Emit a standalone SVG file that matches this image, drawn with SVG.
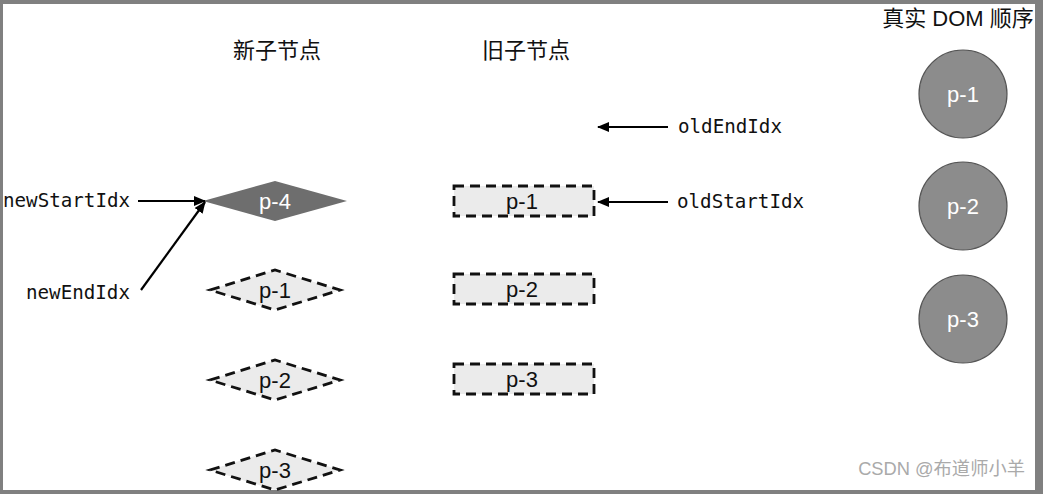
<svg xmlns="http://www.w3.org/2000/svg" width="1043" height="494" viewBox="0 0 1043 494">
  <style>
    .title { font-family: "Liberation Sans", "Noto Sans CJK SC", sans-serif; font-size: 22px; fill: #111; text-anchor: middle; }
    .lbl { font-family: "Liberation Sans", Arial, sans-serif; font-size: 22px; text-anchor: middle; }
    .mono { font-family: "DejaVu Sans Mono", monospace; font-size: 19.2px; fill: #111; }
    .dash { fill: #ebebeb; stroke: #111; stroke-width: 2.8; stroke-dasharray: 10 6; }
    .dom { fill: #8c8c8c; stroke: #555; stroke-width: 1.2; }
    .conn { stroke: #000; stroke-width: 2.2; fill: none; marker-end: url(#arr); }
  </style>
  <defs>
    <marker id="arr" viewBox="0 0 12 10" refX="11" refY="5" markerWidth="12" markerHeight="10" markerUnits="userSpaceOnUse" orient="auto">
      <path d="M0,0 L12,5 L0,10 Z" fill="#000"/>
    </marker>
  </defs>
  <rect x="0" y="0" width="1043" height="494" fill="#808080"/>
  <rect x="3" y="4" width="1032" height="486" fill="#fff"/>

  <g id="headers">
    <text class="title" x="277" y="58">新子节点</text>
    <text class="title" x="526" y="58">旧子节点</text>
    <text class="title" x="958" y="26">真实 DOM 顺序</text>
  </g>

  <g id="new-p4">
    <polygon points="203,201 275,181 347,201 275,221" fill="#6e6e6e"/>
    <text class="lbl" x="275" y="209" fill="#fff">p-4</text>
  </g>
  <g id="new-p1">
    <polygon class="dash" points="210,290 275,270 340,290 275,310"/>
    <text class="lbl" x="275" y="298" fill="#111">p-1</text>
  </g>
  <g id="new-p2">
    <polygon class="dash" points="210,380 275,360 340,380 275,400"/>
    <text class="lbl" x="275" y="388" fill="#111">p-2</text>
  </g>
  <g id="new-p3">
    <polygon class="dash" points="210,470 275,450 340,470 275,490"/>
    <text class="lbl" x="275" y="478" fill="#111">p-3</text>
  </g>

  <g id="old-p1">
    <rect class="dash" x="454" y="186" width="140" height="30"/>
    <text class="lbl" x="522" y="209" fill="#111">p-1</text>
  </g>
  <g id="old-p2">
    <rect class="dash" x="454" y="274" width="140" height="30"/>
    <text class="lbl" x="522" y="297" fill="#111">p-2</text>
  </g>
  <g id="old-p3">
    <rect class="dash" x="454" y="364" width="140" height="30"/>
    <text class="lbl" x="522" y="387" fill="#111">p-3</text>
  </g>

  <g id="dom-p1">
    <circle class="dom" cx="963" cy="94" r="44"/>
    <text class="lbl" x="963" y="102" fill="#fff">p-1</text>
  </g>
  <g id="dom-p2">
    <circle class="dom" cx="963" cy="206" r="44"/>
    <text class="lbl" x="963" y="214" fill="#fff">p-2</text>
  </g>
  <g id="dom-p3">
    <circle class="dom" cx="963" cy="319" r="44"/>
    <text class="lbl" x="963" y="327" fill="#fff">p-3</text>
  </g>

  <g id="labels">
    <text class="mono" x="3" y="207">newStartIdx</text>
    <text class="mono" x="26" y="299">newEndIdx</text>
    <text class="mono" x="678" y="133">oldEndIdx</text>
    <text class="mono" x="677" y="208">oldStartIdx</text>
  </g>

  <g id="connectors">
    <line class="conn" x1="138" y1="201" x2="205" y2="201"/>
    <line class="conn" x1="141" y1="290" x2="205" y2="202"/>
    <line class="conn" x1="668" y1="127" x2="598" y2="127"/>
    <line class="conn" x1="668" y1="202" x2="598" y2="202"/>
  </g>

  <text x="1025" y="475" font-family="Liberation Sans, Noto Sans CJK SC, sans-serif" font-size="18.3" fill="#aaa" text-anchor="end">CSDN @布道师小羊</text>
</svg>
